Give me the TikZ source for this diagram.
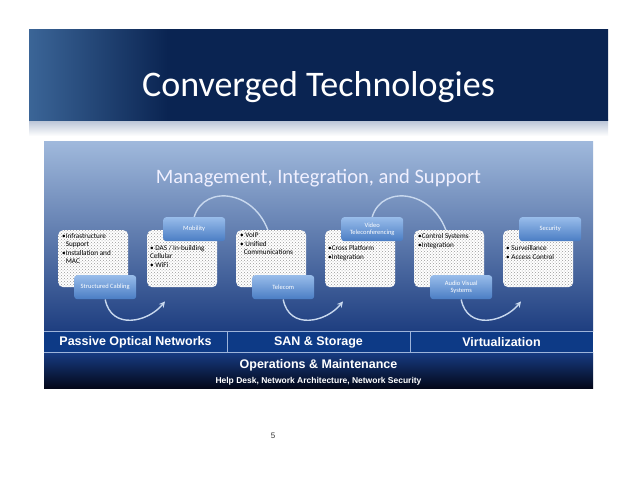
\documentclass[tikz,border=0pt]{standalone}
\usepackage{fontspec}
\setmainfont{Carlito}
\newfontfamily\barfont{Liberation Sans}
\usetikzlibrary{patterns,arrows.meta}
\definecolor{navy}{HTML}{0A2452}
\definecolor{navyleft}{HTML}{3B6597}
\definecolor{shadowtop}{HTML}{B2BED2}
\definecolor{paneltop}{HTML}{A0B9DC}
\definecolor{panelbottom}{HTML}{1E3E80}
\definecolor{barblue}{HTML}{0D3A86}
\definecolor{barline}{HTML}{9DB4DA}
\definecolor{opstop}{HTML}{173C84}
\definecolor{opsbottom}{HTML}{03081A}
\definecolor{tagtop}{HTML}{98BCEA}
\definecolor{tagbottom}{HTML}{4A7DC4}
\definecolor{arcblue}{HTML}{C8D8EE}
\pgfdeclarehorizontalshading{titleband}{100bp}{color(0bp)=(navyleft); color(25bp)=(navyleft);
  color(37bp)=(navy); color(100bp)=(navy)}
\pgfdeclarelayer{back}
\pgfdeclarelayer{mid}
\pgfsetlayers{back,mid,main}

\tikzset{
  itembox/.style={rounded corners=5pt, preaction={fill=white}, pattern=crosshatch dots,
    pattern color=black!40, minimum width=70pt, minimum height=57pt, anchor=north west, inner sep=0pt},
  tagbox/.style={rounded corners=3pt, top color=tagtop, bottom color=tagbottom,
    minimum width=62pt, minimum height=24pt, anchor=north west, inner sep=1pt,
    text=white, font=\fontsize{6.5}{7.5}\selectfont, align=center},
  itemtext/.style={anchor=north west, inner sep=0pt, align=left, font=\fontsize{7.2}{8}\selectfont},
  flowarc/.style={draw=arcblue, line width=1.4pt, -{Stealth[length=6pt,width=6pt]}},
  bartext/.style={text=white, font=\barfont\bfseries\fontsize{12.5}{14}\selectfont},
}

\begin{document}
\begin{tikzpicture}[x=1pt, y=-1pt]
  \useasboundingbox (0,0) rectangle (638,493);

  \begin{pgfonlayer}{back}
  \fill[white] (0,0) rectangle (638,493);
  % title band
  \shade[top color=shadowtop, bottom color=white] (29,119) rectangle (608,136);
  \fill[navy] (29,29) rectangle (608,120);
  \shade[shading=titleband] (29,29) rectangle (608,120);
  % panel
  \shade[top color=paneltop, bottom color=panelbottom] (44,141) rectangle (593,331);
  % bars
  \fill[barblue] (44,331) rectangle (593,352);
  \shade[top color=opstop, bottom color=opsbottom] (44,352) rectangle (593,388);
  \draw[barline, line width=0.8pt] (44,331) -- (593,331) (44,352) -- (593,352)
    (227,331) -- (227,352) (410,331) -- (410,352);
  \end{pgfonlayer}

  \node[text=white, font=\fontsize{36}{40}\selectfont] (title) at (318.5,87) {Converged Technologies};
  \node[text=white!94!blue, font=\fontsize{20.5}{24}\selectfont] (mgmt) at (318.5,178)
    {Management, Integration, and Support};

  \node[bartext] (pon) at (135.5,342) {Passive Optical Networks};
  \node[bartext] (san) at (318.5,342) {SAN \& Storage};
  \node[bartext] (virt) at (501.5,342) {Virtualization};
  \node[bartext] (ops) at (318.5,365) {Operations \& Maintenance};
  \node[text=white, font=\barfont\bfseries\fontsize{8.5}{10}\selectfont] (help) at (318.5,381)
    {Help Desk, Network Architecture, Network Security};

  % boxes and tags
  \node[itembox] (b1) at (58,230) {};
  \node[itembox] (b2) at (147,230) {};
  \node[itembox] (b3) at (236,230) {};
  \node[itembox] (b4) at (325,230) {};
  \node[itembox] (b5) at (414,230) {};
  \node[itembox] (b6) at (503,230) {};

  \node[tagbox] (sc) at (74,275) {Structured Cabling};
  \node[tagbox] (mob) at (163,217) {Mobility};
  \node[tagbox] (tel) at (252,275) {Telecom};
  \node[tagbox] (vid) at (341,217) {Video\\Teleconferencing};
  \node[tagbox] (av) at (430,275) {Audio Visual\\Systems};
  \node[tagbox] (sec) at (519,217) {Security};

  \coordinate (tip1) at ([shift={(18pt,-14pt)}]b2.south west);
  \coordinate (tip2) at ([shift={(18pt,-14pt)}]b4.south west);
  \coordinate (tip3) at ([shift={(18pt,-14pt)}]b6.south west);

  % arcs, kept under the boxes
  \begin{pgfonlayer}{mid}
  \draw[flowarc] (mob.north) .. controls +(10,-34) and +(-12,-52) .. ([yshift=-12pt]b3.north);
  \draw[flowarc] (vid.north) .. controls +(10,-34) and +(-12,-52) .. ([yshift=-12pt]b5.north);
  \draw[flowarc] (sc.south) .. controls +(6,31) and +(-17,21) .. (tip1);
  \draw[flowarc] (tel.south) .. controls +(6,31) and +(-17,21) .. (tip2);
  \draw[flowarc] (av.south) .. controls +(6,31) and +(-17,21) .. (tip3);
  \end{pgfonlayer}

  % text in boxes
  \node[itemtext] (t1) at ([shift={(4pt,-3pt)}]b1.north west)
    {•Infrastructure\\\hphantom{•}Support\\[1.5pt]•Installation and\\\hphantom{•}MAC};
  \node[itemtext] (t2) at ([shift={(3pt,-15pt)}]b2.north west)
    {• DAS / In-building\\Cellular\\[1.5pt]• WiFi};
  \node[itemtext] (t3) at ([shift={(4pt,-3pt)}]b3.north west)
    {• VoIP\\[1pt]• Unified\\\hphantom{•}Communications};
  \node[itemtext] (t4) at ([shift={(3pt,-15pt)}]b4.north west)
    {•Cross Platform\\[1.5pt]•Integration};
  \node[itemtext] (t5) at ([shift={(4pt,-3pt)}]b5.north west)
    {•Control Systems\\[1pt]•Integration};
  \node[itemtext] (t6) at ([shift={(3pt,-15pt)}]b6.north west)
    {• Surveillance\\[1.5pt]• Access Control};

  % page number
  \node[text=black!80, font=\barfont\fontsize{8}{10}\selectfont] (page) at (273,436) {5};
\end{tikzpicture}
\end{document}
